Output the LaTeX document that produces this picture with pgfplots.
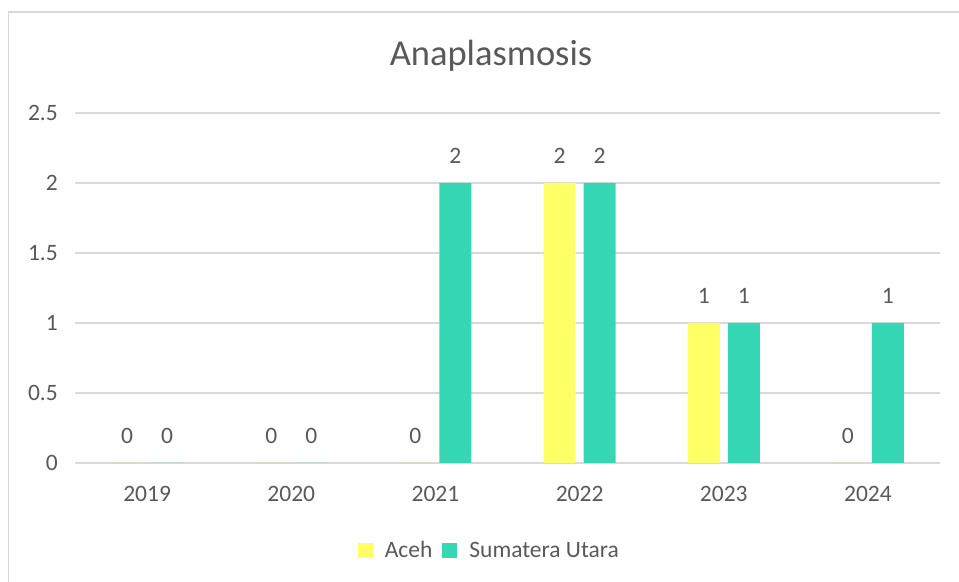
\documentclass[border=0pt]{standalone}
\usepackage{pgfplots}
\pgfplotsset{compat=1.18}
\usepackage{fontspec}
\setmainfont{Carlito}
\definecolor{txt}{HTML}{595959}
\definecolor{gridc}{HTML}{D9D9D9}
\definecolor{aceh}{HTML}{FFFF66}
\definecolor{sumut}{HTML}{36D7B5}
\begin{document}
\begin{tikzpicture}[x=1bp,y=1bp]
\useasboundingbox (0,0) rectangle (959,582);
\clip (0,0) rectangle (959,582);
\draw[gridc, line width=1.5bp] (8.5,-20) -- (8.5,570) -- (990,570);
\node[anchor=base, text=txt, font=\fontsize{36.5bp}{40bp}\selectfont] at (491,516) {Anaplasmosis};
\begin{axis}[
  at={(75bp,119bp)}, anchor=south west,
  scale only axis, width=865bp, height=350bp,
  ybar, bar width=32bp,
  xmin=-0.5, xmax=5.5, ymin=0, ymax=2.5,
  xtick={0,1,2,3,4,5},
  xticklabels={2019,2020,2021,2022,2023,2024},
  ytick={0,0.5,1,1.5,2,2.5},
  yticklabels={0,0.5,1,1.5,2,2.5},
  ymajorgrids, major grid style={gridc, line width=1.3bp},
  axis line style={draw=none},
  major tick length=0pt,
  tick style={draw=none},
  tick label style={font=\fontsize{23.5bp}{26bp}\selectfont, text=txt, inner sep=0pt},
  /pgf/number format/assume math mode=true,
  yticklabel style={anchor=east, xshift=-17bp},
  xticklabel style={anchor=north, yshift=-23.5bp},
  nodes near coords,
  every node near coord/.append style={font=\fontsize{23.5bp}{26bp}\selectfont, text=txt, anchor=south, inner sep=0pt, yshift=19bp},
  legend columns=2,
  legend style={draw=none, fill=none, at={(0.479,-0.249)}, anchor=center,
    font=\fontsize{23.5bp}{26bp}\selectfont, text=txt,
    /tikz/every even column/.append style={column sep=8bp},
    inner sep=0pt},
  legend image code/.code={\fill[#1] (0bp,-7.5bp) rectangle (15bp,7.5bp); \path (25bp,0bp);},
]
\addplot[fill=aceh, draw=none, bar shift=-20bp] coordinates {(0,0) (1,0) (2,0) (3,2) (4,1) (5,0)};
\addplot[fill=sumut, draw=none, bar shift=20bp] coordinates {(0,0) (1,0) (2,2) (3,2) (4,1) (5,1)};
\legend{Aceh, Sumatera Utara}
\end{axis}
\end{tikzpicture}
\end{document}
